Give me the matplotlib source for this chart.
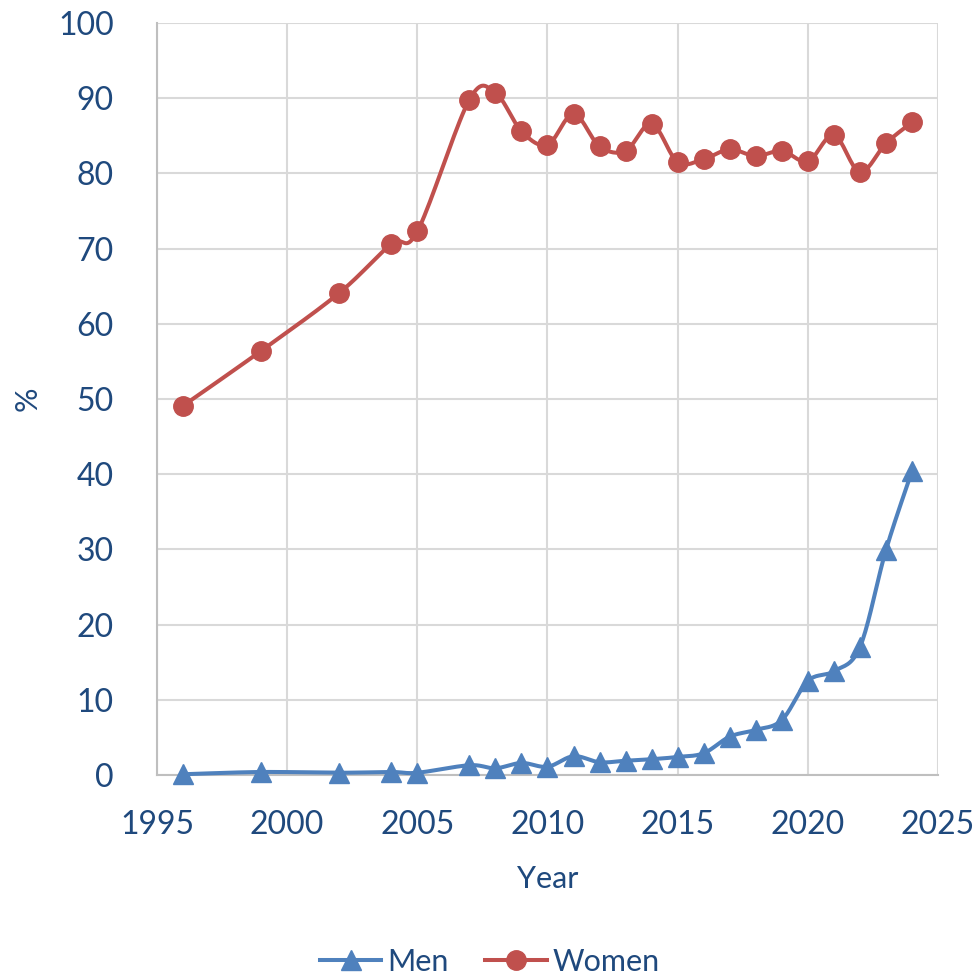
import numpy as np
import matplotlib
matplotlib.use("Agg")
import matplotlib.pyplot as plt
from matplotlib.lines import Line2D

years_women = [1996, 1999, 2002, 2004, 2005, 2007, 2008, 2009, 2010, 2011, 2012,
               2013, 2014, 2015, 2016, 2017, 2018, 2019, 2020, 2021, 2022, 2023, 2024]
women = [49.1, 56.4, 64.1, 70.6, 72.3, 89.8, 90.7, 85.6, 83.8, 87.9, 83.6,
         83.0, 86.6, 81.5, 81.9, 83.2, 82.3, 83.0, 81.6, 85.1, 80.2, 84.0, 86.8]
years_men = years_women
men = [0.1, 0.4, 0.3, 0.4, 0.3, 1.3, 0.9, 1.6, 1.1, 2.5, 1.7,
       1.9, 2.1, 2.4, 2.9, 5.1, 6.0, 7.3, 12.5, 13.8, 17.0, 29.9, 40.4]

x_ticks = [1995, 2000, 2005, 2010, 2015, 2020, 2025]
y_ticks = [0, 10, 20, 30, 40, 50, 60, 70, 80, 90, 100]

plt.rcParams['font.family'] = ['Lato', 'DejaVu Sans']
TXT = '#1F497D'
MEN_C = '#4F81BD'
WOMEN_C = '#C0504D'

fig = plt.figure(figsize=(9.78, 9.76), dpi=100)
ax = fig.add_axes([157/978, 1-775/976, (938-157)/978, (775-23)/976])
ax.set_xlim(1995, 2025)
ax.set_ylim(0, 100)

def smooth(xs, ys, sx, sy, n=20):
    # Catmull-Rom style smoothing in scaled space (like spreadsheet smoothed lines)
    P = np.column_stack([np.array(xs, float) * sx, np.array(ys, float) * sy])
    out = [P[0]]
    m = len(P)
    for i in range(m - 1):
        p0 = P[i - 1] if i > 0 else P[i]
        p1 = P[i]
        p2 = P[i + 1]
        p3 = P[i + 2] if i + 2 < m else P[i + 1]
        c1 = p1 + (p2 - p0) / 6.0
        c2 = p2 - (p3 - p1) / 6.0
        t = np.linspace(0, 1, n)[1:, None]
        seg = ((1 - t) ** 3) * p1 + 3 * ((1 - t) ** 2) * t * c1 + 3 * (1 - t) * t ** 2 * c2 + t ** 3 * p2
        out.extend(seg)
    out = np.array(out)
    return out[:, 0] / sx, out[:, 1] / sy

sx, sy = 26.03, 7.52
for xs, ys, c, mk, ms in [(years_men, men, MEN_C, '^', 15), (years_women, women, WOMEN_C, 'o', 14)]:
    lx, ly = smooth(xs, ys, sx, sy)
    ax.plot(lx, ly, color=c, lw=2.9, solid_capstyle='round', zorder=3, clip_on=False)
    ax.plot(xs, ys, linestyle='none', marker=mk, color=c, markersize=ms, zorder=4, clip_on=False)

ax.set_xticks(x_ticks)
ax.set_yticks(y_ticks)
ax.grid(True, color='#D9D9D9', linewidth=1.5)
ax.set_axisbelow(True)
for s in ['top', 'right']:
    ax.spines[s].set_visible(False)
for s in ['left', 'bottom']:
    ax.spines[s].set_color('#BFBFBF')
    ax.spines[s].set_linewidth(1.5)
ax.tick_params(axis='both', length=0, labelsize=23, labelcolor=TXT)
ax.tick_params(axis='x', pad=25)
ax.tick_params(axis='y', pad=31)
ax.set_xlabel('Year', fontsize=22, color=TXT, labelpad=18)
ax.set_ylabel('%', fontsize=22, color=TXT, labelpad=12)

handles = [Line2D([], [], color=MEN_C, lw=2.9, marker='^', markersize=15),
           Line2D([], [], color=WOMEN_C, lw=2.9, marker='o', markersize=14)]
fig.legend(handles, ['Men', 'Women'], loc='center', bbox_to_anchor=(490/978, 1-962/976),
           ncol=2, frameon=False, fontsize=22, labelcolor=TXT, handlelength=2.0,
           columnspacing=1.2, handletextpad=0.2)

fig.savefig('out.png', dpi=100)
